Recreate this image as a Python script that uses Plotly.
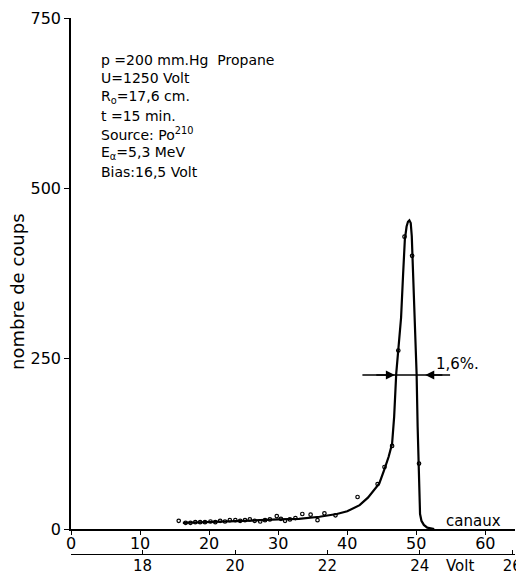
import plotly.graph_objects as go

# Smooth curve drawn through the measurements (channel, counts)
curve_ch = [16.2, 20.0, 25.0, 30.0, 33.0, 36.0, 38.5, 40.0, 41.8, 43.0, 44.0, 44.65,
            45.4, 46.0, 46.5, 46.8, 47.1, 47.45, 47.8, 48.1, 48.35, 48.6, 48.8, 49.0,
            49.2, 49.35, 49.45, 49.7, 49.9, 50.05, 50.2, 50.33, 50.45, 50.55, 50.75,
            51.1, 51.6, 52.6]
curve_counts = [9, 10, 12, 14, 15, 18, 22, 26, 35, 46, 58, 67,
                88, 106, 125, 165, 228, 268, 310, 375, 425, 444, 451, 453,
                449, 430, 400, 335, 285, 228, 150, 96, 45, 22, 12,
                6, 2, 0]

# Measured points
dots_ch = [15.6, 16.6, 17.3, 18.0, 18.7, 19.4, 20.2, 20.9, 21.6, 22.3, 23.0, 23.8,
           24.5, 25.2, 25.9, 26.6, 27.4, 28.1, 28.8, 29.8, 30.4, 31.0, 31.7, 32.5,
           33.5, 34.7, 35.7, 36.7, 38.3, 41.5, 44.4, 45.4, 46.5, 47.4, 48.3, 49.4, 50.4]
dots_counts = [12, 9, 9, 10, 10, 10, 11, 10, 12, 11, 13, 13,
               12, 13, 14, 12, 11, 13, 14, 19, 15, 12, 14, 16,
               22, 21, 13, 23, 20, 47, 66, 91, 122, 262, 429, 401, 96]

ch_ticks = [0, 10, 20, 30, 40, 50, 60]
volt_ticks = [18, 20, 22, 24, 26]
y_ticks = [0, 250, 500, 750]

info_lines = ["p =200 mm.Hg  Propane", "U=1250 Volt", "R<sub>o</sub>=17,6 cm.",
              "t =15 min.", "Source: Po<sup>210</sup>", "E<sub>α</sub>=5,3 MeV",
              "Bias:16,5 Volt"]

FONT = "DejaVu Sans"
OFF = 8  # page body margin
W, H = 516, 567
L, T = 71 - OFF, 18 - OFF
R = W - (515 - OFF)
B = H - (554 - OFF)
PW = W - L - R
PH = H - T - B


def px(xw):
    return (xw - OFF - L) / PW


def py(yw):
    return (H - B - (yw - OFF)) / PH


fig = go.Figure()
fig.add_trace(go.Scatter(x=curve_ch, y=curve_counts, mode="lines",
                         line=dict(color="black", width=2.2), showlegend=False,
                         hoverinfo="skip"))
fig.add_trace(go.Scatter(x=dots_ch, y=dots_counts, mode="markers",
                         marker=dict(symbol="circle-open", size=3.5, color="black",
                                     line=dict(width=1.2, color="black")),
                         showlegend=False))
# invisible trace on the volt axis
fig.add_trace(go.Scatter(x=[volt_ticks[0]], y=[0], xaxis="x2", mode="markers",
                         marker=dict(opacity=0), showlegend=False, hoverinfo="skip"))

x_max = 64.3
fig.update_layout(
    template="none",
    width=W, height=H,
    margin=dict(l=L, r=R, t=T, b=B, autoexpand=False),
    paper_bgcolor="white", plot_bgcolor="white",
    font=dict(family=FONT, size=14, color="black"),
    xaxis=dict(range=[0, x_max], tickvals=ch_ticks, showgrid=False, zeroline=False,
               showline=True, linecolor="black", linewidth=1.5, ticks="outside",
               ticklen=4, tickcolor="black", anchor="y", automargin=False,
               ticklabelstandoff=-5, tickfont=dict(family=FONT, size=16)),
    xaxis2=dict(range=[16.45, 26.06], tickvals=volt_ticks, overlaying="x", anchor="free",
                position=0, side="bottom", showgrid=False, zeroline=False,
                showline=True, linecolor="black", linewidth=1.2, ticks="inside",
                ticklen=4, tickcolor="black", automargin=False,
                ticklabelstandoff=-2, tickfont=dict(family=FONT, size=15)),
    yaxis=dict(range=[0, 750], domain=[py(529), 1], tickvals=y_ticks, showgrid=False,
               zeroline=False, showline=True, linecolor="black", linewidth=1.5,
               ticks="outside", ticklen=5, tickcolor="black", automargin=False,
               tickfont=dict(family=FONT, size=16)),
)

# info text block
line_y = [60, 78, 97, 116, 134, 153, 172]
for txt, yy in zip(info_lines, line_y):
    fig.add_annotation(text=txt, xref="paper", yref="paper",
                       x=px(99), y=py(yy),
                       xanchor="left", yanchor="middle", showarrow=False,
                       font=dict(family=FONT, size=14))

# y title
fig.add_annotation(text="nombre de coups", textangle=-90, xref="paper", yref="paper",
                   x=px(17), y=py(292),
                   xanchor="center", yanchor="middle", showarrow=False,
                   font=dict(family=FONT, size=18))

# axis words
fig.add_annotation(text="canaux", xref="paper", yref="paper", x=px(473), y=py(521),
                   showarrow=False, xanchor="center", yanchor="middle",
                   font=dict(family=FONT, size=15))
fig.add_annotation(text="Volt", xref="paper", yref="paper", x=px(460),
                   y=py(566), xanchor="center", yanchor="middle",
                   showarrow=False, font=dict(family=FONT, size=15))

# FWHM marker
half = 226
fig.add_shape(type="line", x0=42.2, x1=54.9, y0=half, y1=half, xref="x", yref="y",
              line=dict(color="black", width=1.5))
fig.add_annotation(x=46.9, y=half, ax=44.0, ay=half, axref="x", ayref="y",
                   xref="x", yref="y", text="", showarrow=True, arrowhead=2,
                   arrowsize=1.2, arrowwidth=1.5, arrowcolor="black")
fig.add_annotation(x=51.3, y=half, ax=54.0, ay=half, axref="x", ayref="y",
                   xref="x", yref="y", text="", showarrow=True, arrowhead=2,
                   arrowsize=1.2, arrowwidth=1.5, arrowcolor="black")
fig.add_annotation(text="1,6%.", xref="paper", yref="paper", x=px(457), y=py(364),
                   showarrow=False, xanchor="center", yanchor="middle",
                   font=dict(family=FONT, size=15))

fig.write_html("out.html")
